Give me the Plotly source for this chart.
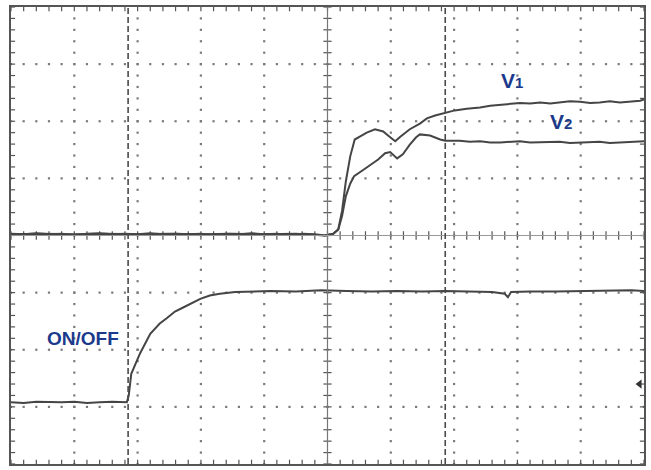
import numpy as np
import plotly.graph_objects as go

# ---- data (screen divisions: x = time div 0..10, y = vertical div -4..4) ----
v1_t = [0.0, 0.2, 0.4, 0.6, 0.8, 1.0, 1.2, 1.4, 1.6, 1.8, 2.0, 2.2, 2.4, 2.6, 2.8, 3.0,
        3.2, 3.4, 3.6, 3.8, 4.0, 4.2, 4.4, 4.6, 4.8, 4.96, 5.09, 5.17, 5.23, 5.29, 5.36,
        5.43, 5.51, 5.62, 5.75, 5.88, 5.99, 6.07, 6.15, 6.30, 6.46, 6.57, 6.70, 6.86,
        7.01, 7.20, 7.41, 7.57, 7.73, 7.90, 8.04, 8.20, 8.36, 8.52, 8.67, 8.83, 8.99,
        9.15, 9.30, 9.46, 9.62, 9.78, 9.94, 10.0]
v1_y = [0.03, 0.02, 0.04, 0.02, 0.03, 0.01, 0.03, 0.04, 0.02, 0.03, 0.02, 0.04, 0.02, 0.03, 0.02, 0.03,
        0.01, 0.03, 0.02, 0.04, 0.02, 0.03, 0.01, 0.03, 0.02, 0.0, 0.03, 0.11, 0.43, 0.95, 1.39,
        1.68, 1.73, 1.80, 1.86, 1.82, 1.72, 1.65, 1.73, 1.86, 1.96, 2.05, 2.10, 2.14,
        2.19, 2.22, 2.24, 2.27, 2.29, 2.30, 2.32, 2.31, 2.33, 2.31, 2.33, 2.35, 2.34,
        2.32, 2.33, 2.35, 2.33, 2.34, 2.36, 2.38]

v2_t = [0.0, 0.5, 1.0, 1.5, 2.0, 2.5, 3.0, 3.5, 4.0, 4.5, 4.96, 5.09, 5.17, 5.23, 5.29, 5.36,
        5.42, 5.48, 5.58, 5.67, 5.80, 5.91, 5.99, 6.10, 6.19, 6.30, 6.40, 6.46, 6.62, 6.78,
        6.86, 7.09, 7.25, 7.41, 7.57, 7.73, 7.90, 8.04, 8.20, 8.36, 8.52, 8.67, 8.83, 8.99,
        9.15, 9.30, 9.46, 9.62, 9.80, 10.0]
v2_y = [0.02, 0.03, 0.02, 0.03, 0.02, 0.03, 0.02, 0.03, 0.02, 0.03, 0.0, 0.03, 0.10, 0.34, 0.69, 0.91,
        1.04, 1.09, 1.16, 1.23, 1.33, 1.44, 1.46, 1.35, 1.42, 1.59, 1.72, 1.77, 1.75, 1.68,
        1.66, 1.66, 1.64, 1.65, 1.63, 1.63, 1.64, 1.65, 1.63, 1.63, 1.64, 1.64, 1.62, 1.63,
        1.64, 1.64, 1.62, 1.63, 1.64, 1.65]

onoff_t = [0.0, 0.2, 0.4, 0.6, 0.8, 1.0, 1.2, 1.4, 1.6, 1.83, 1.86, 1.90, 1.96, 2.04, 2.20,
           2.35, 2.46, 2.59, 2.72, 2.86, 2.99, 3.14, 3.30, 3.54, 3.78, 4.1, 4.5, 4.9, 5.3,
           5.7, 6.1, 6.5, 6.86, 7.2, 7.6, 7.8, 7.85, 7.9, 8.2, 8.6, 9.0, 9.4, 9.8, 10.0]
onoff_y = [-2.92, -2.93, -2.91, -2.92, -2.92, -2.91, -2.93, -2.92, -2.91, -2.92, -2.80, -2.42,
           -2.27, -2.06, -1.72, -1.54, -1.45, -1.33, -1.26, -1.18, -1.11, -1.05, -1.02, -0.99,
           -0.98, -0.97, -0.98, -0.96, -0.97, -0.98, -0.97, -0.98, -0.97, -0.98, -0.99, -1.02,
           -1.08, -0.99, -0.98, -0.98, -0.97, -0.97, -0.96, -0.97]

cursor_x = [1.85, 6.86]
labels = ['V<span style="font-size:15px">1</span>',
          'V<span style="font-size:15px">2</span>',
          "ON/OFF"]
label_x = [7.91, 8.69, 1.145]
label_y = [2.71, 1.99, -1.80]

# ---- screen furniture ----
N_X, N_Y = 10, 8
dotc = "#7a7a7a"
fig = go.Figure()

# dotted graticule (dots every 0.2 div along major lines)
gx, gy = [], []
for i in range(1, N_X):
    if i == 5:
        continue
    for k in np.arange(-4, 4.001, 0.2):
        gx.append(i); gy.append(k)
for j in range(-3, 4):
    if j == 0:
        continue
    for k in np.arange(0, 10.001, 0.2):
        gx.append(k); gy.append(j)
fig.add_trace(go.Scatter(x=gx, y=gy, mode="markers", hoverinfo="skip",
                         marker=dict(symbol="square", size=2.2, color=dotc, line=dict(width=0))))

# ticks on frame and centre axes
tx, ty = [], []
lx, ly = 0.065, 0.075
for k in np.arange(0, 10.001, 0.2):
    tx += [k, k, None, k, k, None, k, k, None]
    ty += [4, 4 - ly, None, -4, -4 + ly, None, -ly, ly, None]
for k in np.arange(-4, 4.001, 0.2):
    tx += [0, lx, None, 10, 10 - lx, None, 5 - lx, 5 + lx, None]
    ty += [k, k, None, k, k, None, k, k, None]
fig.add_trace(go.Scatter(x=tx, y=ty, mode="lines", hoverinfo="skip",
                         line=dict(color="#555555", width=1.2)))

# centre cross lines
fig.add_shape(type="line", x0=5, x1=5, y0=-4, y1=4, line=dict(color="#777777", width=1.2))
fig.add_shape(type="line", x0=0, x1=10, y0=0, y1=0, line=dict(color="#999999", width=1))
# cursors
for cx in cursor_x:
    fig.add_shape(type="line", x0=cx, x1=cx, y0=-4, y1=4,
                  line=dict(color="#4a4a4a", width=1.6, dash="6px,3px"))

# traces
tc = "#454545"
for t, y in [(onoff_t, onoff_y), (v2_t, v2_y), (v1_t, v1_y)]:
    fig.add_trace(go.Scatter(x=t, y=y, mode="lines", hoverinfo="skip",
                             line=dict(color=tc, width=2)))

# channel / trigger markers
fig.add_trace(go.Scatter(x=[-0.04, -0.04], y=[0.03, -2.92], mode="markers", hoverinfo="skip",
                         cliponaxis=False,
                         marker=dict(symbol="square", size=[7, 4], color="#222222")))
fig.add_trace(go.Scatter(x=[9.93], y=[-2.6], mode="markers", hoverinfo="skip",
                         marker=dict(symbol="triangle-left", size=8, color="#333333")))

for txt, x, y in zip(labels, label_x, label_y):
    sz = 21 if txt != "ON/OFF" else 19
    fig.add_annotation(x=x, y=y, text=txt, showarrow=False, xanchor="center", yanchor="middle",
                       font=dict(family="Liberation Sans, Arial, sans-serif", size=sz,
                                 color="#1b3a8c", weight="bold"))

fig.update_layout(
    width=651, height=470, showlegend=False,
    margin=dict(l=11, r=7, t=5, b=6),
    paper_bgcolor="white", plot_bgcolor="white",
    xaxis=dict(range=[0, 10], showgrid=False, zeroline=False, showticklabels=False,
               showline=True, linecolor="#555555", linewidth=1.5, mirror=True, fixedrange=True),
    yaxis=dict(range=[-4, 4], showgrid=False, zeroline=False, showticklabels=False,
               showline=True, linecolor="#555555", linewidth=1.5, mirror=True, fixedrange=True),
)
fig.write_html("out.html", config={"displayModeBar": False},
               post_script="document.body.style.margin='0';document.body.style.overflow='hidden';")
